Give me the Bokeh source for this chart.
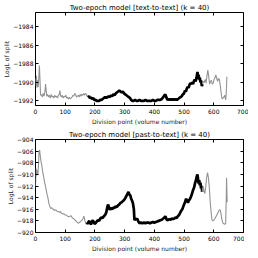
from bokeh.plotting import figure
from bokeh.models import LinearAxis, FixedTicker, Range1d
from bokeh.layouts import column
from bokeh.embed import file_html
from bokeh.resources import INLINE

# ---------------- data ----------------
x_ticks = [0, 100, 200, 300, 400, 500, 600, 700]
top_y_ticks = [-1992, -1990, -1988, -1986, -1984]
bot_y_ticks = [-920, -918, -916, -914, -912, -910, -908, -906, -904]

top_title = "Two-epoch model [text-to-text] (k = 40)"
bot_title = "Two-epoch model [past-to-text] (k = 40)"
x_label = "Division point (volume number)"
y_label = "LogL of split"

# top panel: text-to-text
t_grey1_x = [0, 2, 3, 5, 7, 9, 11, 13, 15, 17, 20, 23, 26, 29, 32, 34, 36, 38, 41, 44, 47, 50, 53, 56, 59,
             62, 65, 68, 71, 74, 77, 80, 82, 84, 87, 90, 93, 96, 99, 102, 105, 108, 111, 114, 117, 120,
             123, 126, 129, 132, 135, 138, 141, 144, 147, 150, 153, 156, 159, 162, 165, 168, 171, 174, 177]
t_grey1_y = [-1989.6, -1990.4, -1989.3, -1990.6, -1989.8, -1990.5, -1989.5, -1988.2, -1989.6, -1991.4,
             -1991.3, -1991.6, -1991.2, -1991.5, -1990.9, -1990.2, -1990.9, -1991.5, -1991.3, -1991.6,
             -1991.4, -1991.7, -1991.3, -1991.6, -1991.5, -1991.7, -1991.4, -1991.6, -1991.5, -1991.7,
             -1991.4, -1991.3, -1990.9, -1991.4, -1991.6, -1991.4, -1991.7, -1991.5, -1991.6, -1991.4,
             -1991.7, -1991.6, -1991.8, -1991.6, -1991.8, -1991.7, -1991.6, -1991.4, -1991.5, -1991.2,
             -1991.3, -1991.6, -1991.5, -1991.4, -1991.6, -1991.3, -1991.5, -1991.3, -1991.4, -1991.2,
             -1991.4, -1991.2, -1991.3, -1991.5, -1991.6]

t_black_x = [177, 180, 183, 186, 190, 194, 198, 202, 206, 210, 214, 218, 222, 226, 230, 234, 238, 242, 246,
             250, 254, 258, 262, 266, 270, 274, 278, 282, 286, 290, 294, 298, 302, 306, 310, 314, 318, 322,
             326, 330, 335, 340, 345, 350, 355, 360, 365, 370, 375, 380, 385, 390, 395, 400, 405, 410, 415,
             420, 425, 430, 434, 437, 440, 444, 448, 452, 456, 460, 464, 468, 472, 476, 480, 484, 488, 492,
             496, 500, 503, 506, 509, 512, 515, 518, 521, 524, 527, 530, 533, 536, 539, 542, 545, 547, 549,
             551, 553, 555, 557, 560, 562]
t_black_y = [-1991.6, -1991.5, -1991.7, -1991.6, -1991.8, -1991.7, -1991.9, -1991.9, -1992.0, -1992.0,
             -1992.0, -1991.9, -1991.9, -1991.8, -1991.7, -1991.6, -1991.7, -1991.6, -1991.5, -1991.6,
             -1991.4, -1991.5, -1991.3, -1991.4, -1991.2, -1991.1, -1991.0, -1990.9, -1991.0, -1991.1,
             -1991.0, -1991.2, -1991.3, -1991.4, -1991.5, -1991.6, -1991.7, -1991.9, -1992.0, -1992.0,
             -1991.9, -1992.0, -1992.0, -1991.9, -1992.0, -1992.0, -1992.0, -1991.9, -1992.0, -1992.0,
             -1992.0, -1992.0, -1991.9, -1992.0, -1992.0, -1991.9, -1991.9, -1991.9, -1991.8, -1991.6,
             -1991.4, -1991.3, -1991.6, -1991.9, -1991.8, -1991.9, -1991.8, -1991.9, -1991.8, -1991.9,
             -1991.8, -1991.9, -1991.8, -1991.7, -1991.6, -1991.5, -1991.3, -1991.2, -1990.9, -1991.0,
             -1990.7, -1990.5, -1990.6, -1990.3, -1990.1, -1990.2, -1990.0, -1990.2, -1989.9, -1989.7,
             -1989.9, -1989.5, -1988.9, -1989.3, -1989.2, -1989.7, -1989.5, -1990.0, -1989.8, -1990.4,
             -1990.2]

t_grey2_x = [562, 565, 568, 571, 574, 577, 580, 583, 586, 589, 592, 595, 598, 601, 604, 607, 610, 613, 616,
             619, 622, 625, 628, 631, 634, 637, 640, 642, 644]
t_grey2_y = [-1990.2, -1989.9, -1990.0, -1989.7, -1990.1, -1989.3, -1988.7, -1989.4, -1990.2, -1989.9,
             -1989.8, -1990.2, -1990.1, -1989.7, -1989.5, -1989.2, -1989.6, -1989.9, -1989.6, -1989.7,
             -1990.4, -1991.2, -1991.8, -1991.7, -1991.6, -1991.4, -1991.9, -1991.2, -1989.4]

# bottom panel: past-to-text
b_grey1_x = [0, 2, 4, 6, 8, 10, 12, 14, 16, 18, 21, 24, 27, 30, 33, 36, 39, 42, 45, 48, 51, 54, 57, 60, 64,
             68, 72, 76, 80, 84, 88, 92, 96, 100, 104, 108, 112, 116, 120, 124, 128, 132, 136, 140, 144,
             148, 152, 156, 160, 163, 166, 169, 172]
b_grey1_y = [-912.0, -909.0, -910.2, -909.3, -910.0, -908.5, -906.0, -905.8, -906.8, -907.6, -908.4, -909.5,
             -910.3, -911.2, -911.9, -912.7, -913.5, -914.1, -915.0, -915.5, -915.9, -915.7, -915.9, -916.0,
             -916.2, -916.1, -916.3, -916.4, -916.5, -916.4, -916.7, -916.8, -916.8, -917.0, -917.0, -917.2,
             -917.3, -917.2, -917.1, -917.5, -917.6, -917.8, -918.0, -918.2, -918.4, -918.3, -918.1, -917.9,
             -917.6, -917.2, -917.9, -918.4, -918.3]

b_black_x = [172, 175, 178, 181, 184, 187, 190, 193, 196, 199, 202, 206, 210, 214, 218, 222, 226, 230, 234,
             238, 241, 244, 247, 250, 254, 258, 262, 266, 270, 274, 278, 282, 286, 290, 294, 298, 302, 306,
             310, 313, 316, 319, 322, 325, 328, 331, 333, 336, 339, 342, 346, 350, 355, 360, 365, 370, 375,
             380, 385, 390, 395, 400, 405, 410, 415, 420, 425, 430, 434, 437, 440, 443, 447, 451, 455, 459,
             463, 467, 471, 475, 479, 483, 487, 491, 495, 499, 503, 507, 510, 513, 516, 519, 522, 525, 528,
             531, 534, 537, 540, 543, 545, 547, 549, 551, 553, 555, 557, 559, 561]
b_black_y = [-918.3, -918.5, -918.2, -918.0, -918.4, -918.6, -918.1, -917.9, -918.2, -918.5, -918.4, -918.1,
             -917.9, -918.0, -917.6, -917.4, -917.5, -917.2, -917.0, -916.6, -915.8, -915.2, -915.6, -916.1,
             -915.8, -916.0, -915.7, -915.8, -915.5, -915.6, -915.3, -915.2, -914.9, -914.8, -914.6, -914.4,
             -914.1, -913.7, -913.3, -913.0, -913.5, -913.6, -914.2, -914.5, -915.0, -916.0, -917.9, -917.6,
             -917.8, -917.6, -918.1, -918.4, -918.3, -918.4, -918.3, -918.4, -918.3, -918.3, -918.4, -918.3,
             -918.2, -918.3, -918.2, -918.1, -918.0, -917.9, -917.8, -917.6, -917.4, -917.2, -917.6, -917.9,
             -917.8, -917.7, -917.8, -917.6, -917.7, -917.6, -917.4, -917.5, -917.2, -917.0, -916.6, -916.2,
             -915.9, -915.3, -914.8, -914.2, -914.5, -914.9, -914.5, -914.3, -914.0, -913.6, -913.1, -912.6,
             -912.2, -911.5, -911.0, -910.3, -910.0, -910.8, -911.6, -911.0, -911.9, -911.4, -912.4, -912.0,
             -913.0]

b_grey2_x = [561, 564, 567, 570, 573, 576, 579, 582, 585, 588, 591, 594, 597, 600, 604, 608, 612, 616, 619,
             622, 625, 628, 631, 634, 637, 640, 642, 643, 645]
b_grey2_y = [-913.0, -912.0, -912.8, -913.3, -912.1, -910.5, -909.7, -910.6, -912.3, -914.8, -916.5, -917.9,
             -918.0, -917.9, -917.6, -917.2, -916.8, -916.4, -916.1, -916.2, -917.0, -917.9, -918.4, -918.5,
             -918.6, -918.4, -914.0, -910.6, -914.8]

GREY = "#939393"
FONT = "DejaVu Sans"


def make_panel(title, yr, yticks, segments, b_top, b_bottom):
    p = figure(frame_width=208, frame_height=93, output_backend="svg", toolbar_location=None,
               x_range=Range1d(0, 700), y_range=Range1d(*yr),
               min_border_left=26, min_border_right=5, min_border_top=b_top, min_border_bottom=b_bottom)
    p.title.text = title
    p.title.align = "center"
    p.title.text_font = FONT
    p.title.text_font_size = "7px"
    p.title.text_font_style = "normal"
    p.title.text_color = "black"
    p.title.standoff = 1
    p.title.offset = 0
    for (xs, ys, col, w) in segments:
        p.line(xs, ys, line_color=col, line_width=w)
    p.xgrid.visible = False
    p.ygrid.visible = False
    p.outline_line_color = "black"
    p.outline_line_width = 1
    p.background_fill_color = "white"
    p.border_fill_color = "white"

    ax_x = p.xaxis[0]
    ax_y = p.yaxis[0]
    ax_x.ticker = FixedTicker(ticks=x_ticks)
    ax_y.ticker = FixedTicker(ticks=yticks)
    ax_y.major_label_overrides = {t: "\u2212" + str(abs(t)) for t in yticks}
    for ax in (ax_x, ax_y):
        ax.major_tick_in = 3
        ax.major_tick_out = 0
        ax.minor_tick_line_color = None
        ax.axis_line_color = None
        ax.major_label_text_font = FONT
        ax.major_label_text_font_size = "6px"
        ax.major_label_text_color = "black"
        ax.axis_label_text_font = FONT
        ax.axis_label_text_font_size = "6px"
        ax.axis_label_text_font_style = "normal"
        ax.axis_label_text_color = "#222222"
    ax_x.axis_label = x_label
    ax_y.axis_label = y_label
    ax_x.major_label_standoff = 3
    ax_y.major_label_standoff = 2
    ax_x.axis_label_standoff = 1
    ax_y.axis_label_standoff = 0

    for loc, tk in (("above", x_ticks), ("right", yticks)):
        a = LinearAxis(ticker=FixedTicker(ticks=tk))
        a.major_tick_in = 3
        a.major_tick_out = 0
        a.minor_tick_line_color = None
        a.axis_line_color = None
        a.major_label_overrides = {t: "" for t in tk}
        a.major_label_text_font_size = "1px"
        a.major_label_text_color = None
        a.major_label_standoff = 0
        p.add_layout(a, loc)
    return p


p1 = make_panel(top_title, (-1992.5, -1982.5), top_y_ticks,
                [(t_grey1_x, t_grey1_y, GREY, 1.1),
                 (t_black_x, t_black_y, "black", 2.7),
                 (t_grey2_x, t_grey2_y, GREY, 1.1)], 12, 21)
p2 = make_panel(bot_title, (-920, -904), bot_y_ticks,
                [(b_grey1_x, b_grey1_y, GREY, 1.1),
                 (b_black_x, b_black_y, "black", 2.7),
                 (b_grey2_x, b_grey2_y, GREY, 1.1)], 12, 20)

layout = column(p1, p2, spacing=0)
open("out.html", "w").write(file_html(layout, INLINE))
